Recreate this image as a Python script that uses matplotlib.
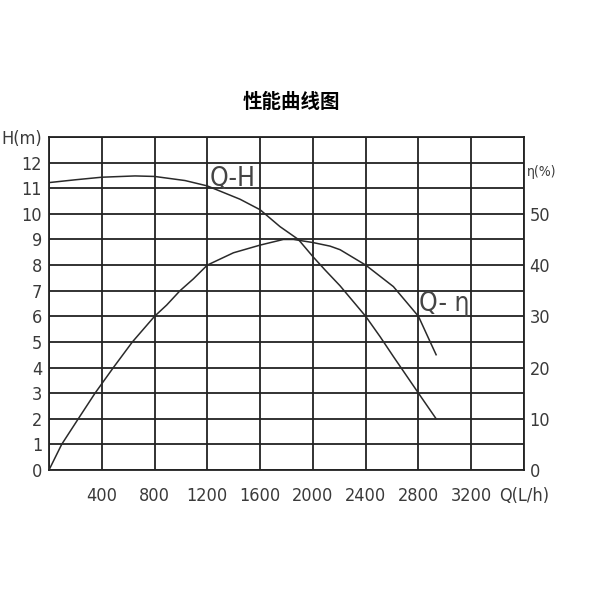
import matplotlib
matplotlib.use("Agg")
import matplotlib.pyplot as plt
import numpy as np
from matplotlib import font_manager
from matplotlib.font_manager import FontProperties

title = "性能曲线图"
q_ticks = [0, 400, 800, 1200, 1600, 2000, 2400, 2800, 3200, 3600]
q_tick_labels = ["", "400", "800", "1200", "1600", "2000", "2400", "2800", "3200", "Q(L/h)"]
h_ticks = list(range(0, 14))
h_tick_labels = [str(v) for v in range(0, 13)] + ["H(m)"]
eta_ticks = [0, 10, 20, 30, 40, 50]
eta_tick_labels = ["0", "10", "20", "30", "40", "50"]

q_h = [0, 200, 400, 652, 800, 1031, 1200, 1448, 1600, 1751, 1890, 2000, 2092, 2206, 2400, 2510, 2610, 2800, 2934]
head = [11.22, 11.33, 11.43, 11.48, 11.46, 11.30, 11.09, 10.57, 10.16, 9.5, 9.0, 8.33, 7.81, 7.19, 6.0, 5.2, 4.43, 3.0, 2.0]

q_eta = [0, 96, 222, 349, 488, 632, 800, 892, 993, 1094, 1200, 1398, 1600, 1776, 1853, 2000, 2130, 2206, 2400, 2610, 2800, 2889, 2934]
eta = [0, 5, 10, 15, 20, 25, 30, 32.2, 35, 37.3, 40, 42.4, 43.9, 45, 45, 44.4, 43.7, 43.0, 40, 35.8, 30, 25, 22.5]

# pick a narrow font if one is installed
cands = []
for f in font_manager.fontManager.ttflist:
    st = str(f.stretch)
    if (st in ('condensed', 'semi-condensed', 'extra-condensed', 'ultra-condensed')
            or 'Narrow' in f.name or 'Condensed' in f.name) and f.style == 'normal':
        w = f.weight if isinstance(f.weight, int) else 400
        cands.append((abs(w - 350), f.fname))
cands.sort()
if cands:
    fp = FontProperties(fname=cands[0][1])
else:
    fp = FontProperties(family='DejaVu Sans')

def nfp(size):
    p = fp.copy()
    p.set_size(size)
    return p

fig = plt.figure(figsize=(6, 6), dpi=100)
ax = fig.add_axes([49/600, 1-470/600, 475/600, 333/600])
ax.set_xlim(0, 3600)
ax.set_ylim(0, 13)
ax.set_xticks(q_ticks)
ax.set_xticklabels(q_tick_labels)
ax.set_yticks(h_ticks)
ax.set_yticklabels(h_tick_labels)
ax.grid(True, color="#222222", linewidth=1.3)
for s in ax.spines.values():
    s.set_color("#222222")
    s.set_linewidth(1.3)
ax.tick_params(axis='both', length=0, colors="#3a3a3a")
ax.tick_params(axis='x', pad=12)
ax.tick_params(axis='y', pad=5)
for lab in ax.get_xticklabels() + ax.get_yticklabels():
    lab.set_fontproperties(nfp(13))

ax2 = ax.twinx()
ax2.set_ylim(0, 65)
ax2.set_yticks(eta_ticks)
ax2.set_yticklabels(eta_tick_labels)
ax2.tick_params(axis='y', length=0, colors="#3a3a3a", pad=4)
for lab in ax2.get_yticklabels():
    lab.set_fontproperties(nfp(13))
for s in ax2.spines.values():
    s.set_visible(False)

ax.plot(q_h, head, color="#2a2a2a", linewidth=1.1)
ax2.plot(q_eta, eta, color="#2a2a2a", linewidth=1.1)

ax.text(1390, 11.08, "Q-H", color="#444444", ha="center", va="baseline",
        fontproperties=nfp(19))
ax.text(2995, 6.2, "Q- η", color="#444444", ha="center", va="baseline",
        fontproperties=nfp(19))
ax2.text(3620, 58.2, "η(%)", color="#3a3a3a", ha="left", va="center",
         fontproperties=nfp(10))

fig.text(291.7/600, 1-102/600, title, fontsize=14, fontweight="bold",
         ha="center", va="center", family=["Noto Sans CJK SC", "DejaVu Sans"])

fig.savefig("out.png", dpi=100, facecolor="white")
